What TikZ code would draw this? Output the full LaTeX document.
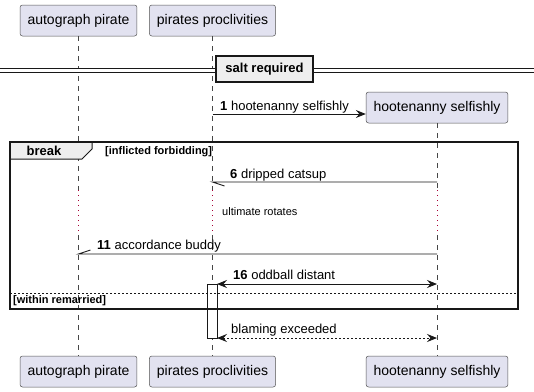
\documentclass[tikz,border=0pt]{standalone}
\usepackage{fontspec}
\setmainfont{Liberation Sans}
\usepackage{tikz}
\usetikzlibrary{arrows.meta,positioning}
\usepackage{xcolor}
\definecolor{umlfill}{HTML}{E2E2F0}
\definecolor{umlline}{HTML}{181818}
\definecolor{grpfill}{HTML}{EEEEEE}
\definecolor{delayred}{HTML}{A80036}
\newcommand{\msgfont}{\fontsize{13}{15}\selectfont}
\newcommand{\smallfont}{\fontsize{11}{13}\selectfont}
\tikzstyle{actor} = [draw=umlline!75, fill=umlfill, rounded corners=2.5pt, line width=0.5pt, minimum height=31pt, inner xsep=7.5pt, font=\fontsize{14}{16}\selectfont]
\tikzstyle{lifeline} = [umlline!80, line width=0.5pt, dash pattern=on 5pt off 5pt]
\tikzstyle{delay} = [delayred, line width=1pt, dash pattern=on 1pt off 4pt]
\tikzstyle{msg} = [umlline, line width=0.9pt, >={Stealth[length=10pt,width=8pt,inset=3.5pt]}]
\tikzstyle{lbl} = [anchor=base west, inner sep=0pt, font=\msgfont]

\begin{document}
\begin{tikzpicture}[x=1pt,y=-1pt]
\useasboundingbox (0,0) rectangle (534,391);

% Participants
\node[actor] (apTop) at (78.5,20.5) {autograph pirate};
\node[actor] (ppTop) at (212.5,20.5) {pirates proclivities};
\node[actor] (hsTop) at (437,107.5) {hootenanny selfishly};
\node[actor] (apBot) at (78.5,371.5) {autograph pirate};
\node[actor] (ppBot) at (212.5,371.5) {pirates proclivities};
\node[actor] (hsBot) at (437,371.5) {hootenanny selfishly};

% Lifelines, broken by the delay
\foreach \p in {ap,pp,hs} {
    \draw[lifeline] (\p Top.south) -- (\p Top |- 0,190);
    \draw[delay] (\p Top |- 0,190) -- (\p Top |- 0,235);
    \draw[lifeline] (\p Top |- 0,235) -- (\p Bot.north);
}

% Divider
\draw[umlline, line width=1pt, double, double distance=3pt] (0,70) -- (534,70);
\node[draw=umlline, line width=1.5pt, fill=grpfill, minimum height=26pt, inner xsep=9.5pt,
      font=\bfseries\msgfont] (salt) at (264.5,69) {salt required};

% Message 1
\draw[msg,->] (ppTop |- 0,114) -- (hsTop.west |- 0,114);
\node[lbl] (m1) at (220,110) {\textbf{1} hootenanny selfishly};

% Messages inside break
\draw[msg] (hsTop |- 0,182) -- (ppTop |- 0,182) -- ++(12,4);
\node[lbl] (m6) at (230,178) {\textbf{6} dripped catsup};
\node[anchor=west, inner sep=0pt, font=\smallfont] (delayTxt) at (222,212) {ultimate rotates};
\draw[msg] (hsTop |- 0,254) -- (apTop |- 0,254) -- ++(12,-4);
\node[lbl] (m11) at (97,249.5) {\textbf{11} accordance buddy};

% Activation
\node[draw=umlline, fill=white, line width=1pt, minimum width=10pt, minimum height=54pt,
      inner sep=0pt, outer sep=0pt] (act) at (212,311) {};
\draw[msg,<->] (act.north east) -- (hsTop |- act.north);
\node[lbl] (m16) at (233,279) {\textbf{16} oddball distant};

% Break frame
\draw[umlline, line width=1pt, dash pattern=on 2pt off 2pt] (10,293) -- (518,293);
\filldraw[fill=grpfill, draw=umlline, line width=1pt] (10,142) -- (92,142) -- (92,149) -- (82,159) -- (10,159) -- cycle;
\draw[umlline, line width=1.5pt] (10,142) rectangle (518,309);
\node[font=\bfseries\msgfont, inner sep=0pt] (brk) at (44,151) {break};
\node[anchor=west, inner sep=0pt, font=\bfseries\smallfont] (cond1) at (105,151.5) {[inflicted forbidding]};
\node[anchor=west, inner sep=0pt, font=\bfseries\smallfont] (cond2) at (13,301) {[within remarried]};

% Reply
\draw[msg,<->, dash pattern=on 2pt off 2pt] (act.south east) -- (hsTop |- act.south);
\node[lbl] (rep) at (231,333.5) {blaming exceeded};
\end{tikzpicture}
\end{document}
